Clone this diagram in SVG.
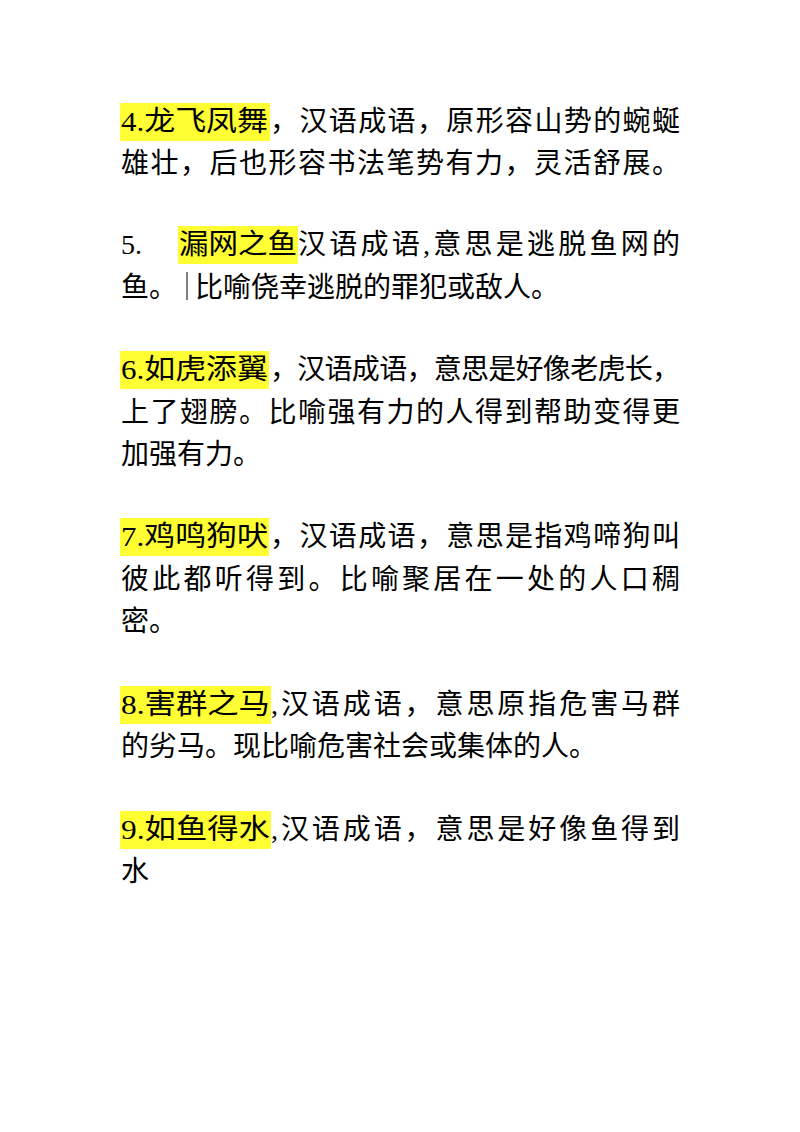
<svg xmlns="http://www.w3.org/2000/svg" width="800" height="1132" viewBox="0 0 800 1132">
<style>
text{font-family:"Liberation Serif","Noto Sans CJK SC",serif;font-size:28px;fill:#000}
.hl{fill:#ffff33}
</style>
<rect width="800" height="1132" fill="#fff"/>
<g id="highlights">
<rect class="hl" x="120" y="103" width="150" height="38"/>
<rect class="hl" x="178" y="226" width="120" height="38"/>
<rect class="hl" x="120" y="351" width="149" height="38"/>
<rect class="hl" x="120" y="518" width="149" height="38"/>
<rect class="hl" x="120" y="686" width="151" height="38"/>
<rect class="hl" x="120" y="811" width="151" height="38"/>
</g>
<g id="item4">
<text x="121" y="131" textLength="147" lengthAdjust="spacingAndGlyphs">4.龙飞凤舞</text>
<text x="270" y="131" textLength="410" lengthAdjust="spacing">，汉语成语，原形容山势的蜿蜒</text>
<text x="121" y="173" textLength="559" lengthAdjust="spacing">雄壮，后也形容书法笔势有力，灵活舒展。</text>
</g>
<g id="item5">
<text x="121" y="254">5.</text>
<text x="179" y="254" textLength="118" lengthAdjust="spacingAndGlyphs">漏网之鱼</text>
<text x="298" y="254" textLength="382" lengthAdjust="spacing">汉语成语,意思是逃脱鱼网的</text>
<text x="121" y="297">鱼。</text>
<line x1="187" y1="272" x2="187" y2="300" stroke="#000" stroke-width="1"/>
<text x="195" y="297">比喻侥幸逃脱的罪犯或敌人。</text>
</g>
<g id="item6">
<text x="121" y="379" textLength="147" lengthAdjust="spacingAndGlyphs">6.如虎添翼</text>
<text x="270" y="379" textLength="410" lengthAdjust="spacing">，汉语成语，意思是好像老虎长，</text>
<text x="121" y="422" textLength="559" lengthAdjust="spacing">上了翅膀。比喻强有力的人得到帮助变得更</text>
<text x="121" y="464">加强有力。</text>
</g>
<g id="item7">
<text x="121" y="546" textLength="147" lengthAdjust="spacingAndGlyphs">7.鸡鸣狗吠</text>
<text x="270" y="546" textLength="410" lengthAdjust="spacing">，汉语成语，意思是指鸡啼狗叫</text>
<text x="121" y="589" textLength="559" lengthAdjust="spacing">彼此都听得到。比喻聚居在一处的人口稠</text>
<text x="121" y="631">密。</text>
</g>
<g id="item8">
<text x="121" y="714" textLength="149" lengthAdjust="spacingAndGlyphs">8.害群之马</text>
<text x="271" y="714" textLength="409" lengthAdjust="spacing">,汉语成语，意思原指危害马群</text>
<text x="121" y="756">的劣马。现比喻危害社会或集体的人。</text>
</g>
<g id="item9">
<text x="121" y="839" textLength="149" lengthAdjust="spacingAndGlyphs">9.如鱼得水</text>
<text x="271" y="839" textLength="409" lengthAdjust="spacing">,汉语成语，意思是好像鱼得到</text>
<text x="121" y="881">水</text>
</g>
</svg>
